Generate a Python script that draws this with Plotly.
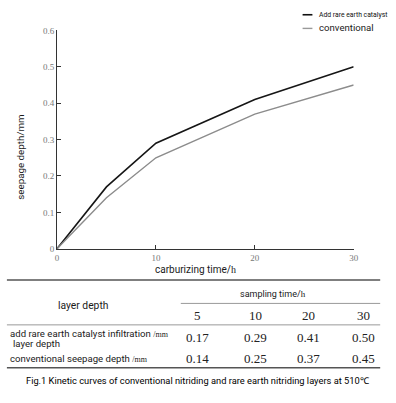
import plotly.graph_objects as go

# ---- data ----
times = [0, 5, 10, 20, 30]
rare_earth = [0, 0.17, 0.29, 0.41, 0.50]
conventional = [0, 0.14, 0.25, 0.37, 0.45]

table_times = [5, 10, 20, 30]
table_rare = [0.17, 0.29, 0.41, 0.50]
table_conv = [0.14, 0.25, 0.37, 0.45]

W, H = 396, 403
def px(x):
    return x / W
def py(y):
    return 1 - y / H

SANS = "Roboto, Liberation Sans, sans-serif"
SERIF = "Liberation Serif, DejaVu Serif, serif"

fig = go.Figure()
fig.add_trace(go.Scatter(x=times, y=rare_earth, mode="lines",
                         line=dict(color="#161616", width=1.6), showlegend=False))
fig.add_trace(go.Scatter(x=times, y=conventional, mode="lines",
                         line=dict(color="#8c8c8c", width=1.4), showlegend=False))

fig.update_layout(
    width=W, height=H, margin=dict(l=0, r=0, t=0, b=0),
    paper_bgcolor="white", plot_bgcolor="white",
    xaxis=dict(domain=[px(56), px(358)], range=[0, 30], tickvals=[0, 10, 20, 30],
               showline=True, linecolor="#333", linewidth=1, ticks="inside", ticklen=4,
               tickcolor="#333", showgrid=False, zeroline=False,
               tickfont=dict(family=SERIF, size=9, color="#777")),
    yaxis=dict(domain=[py(250), py(26)], range=[0, 0.6],
               tickvals=[0, 0.1, 0.2, 0.3, 0.4, 0.5, 0.6],
               ticktext=["0", "0.1", "0.2", "0.3", "0.4", "0.5", "0.6"],
               showline=True, linecolor="#333", linewidth=1, ticks="inside", ticklen=4,
               tickcolor="#333", showgrid=False, zeroline=False,
               tickfont=dict(family=SERIF, size=9, color="#777")),
)

ann = []
shapes = []
def text(x, y, s, size=11, family=SANS, color="#1a1a1a", xanchor="center", angle=0):
    ann.append(dict(x=px(x), y=py(y), xref="paper", yref="paper", text=s, showarrow=False,
                    xanchor=xanchor, yanchor="middle", textangle=angle,
                    font=dict(size=size, family=family, color=color)))
def hline(x0, x1, y, color="#444", width=1.2):
    shapes.append(dict(type="line", xref="paper", yref="paper",
                       x0=px(x0), x1=px(x1), y0=py(y), y1=py(y),
                       line=dict(color=color, width=width)))

# axis titles
text(18, 156, "seepage depth/mm", size=9.8, angle=-90)
text(197, 271, "carburizing time/<span style='font-family:Liberation Serif'>h</span>", size=10)

# legend
hline(306, 316, 10, color="#111", width=1.6)
text(321, 10, "Add rare earth catalyst", size=6.8, xanchor="left", color="#111")
hline(306, 316, 24, color="#999", width=1.4)
text(321, 23, "conventional", size=9.6, xanchor="left", color="#222")

# table
hline(5, 385, 282, color="#555", width=1.3)
hline(182, 385, 306, color="#999", width=1)
hline(5, 385, 328, color="#999", width=1)
hline(5, 385, 372, color="#555", width=1.3)

text(82, 308, "layer depth", size=10.3)
text(276, 296, "sampling time/<span style='font-family:Liberation Serif'>h</span>", size=9)

col_x = [199, 258, 312, 368]
for cx, t in zip(col_x, table_times):
    text(cx, 318, str(t), size=13, family=SERIF, color="#222")
for cx, v in zip(col_x, table_rare):
    text(cx, 341, f"{v:.2f}", size=13, family=SERIF, color="#222")
for cx, v in zip(col_x, table_conv):
    text(cx, 362, f"{v:.2f}", size=13, family=SERIF, color="#222")

text(6, 337, "add rare earth catalyst infiltration <span style='font-family:Liberation Serif;font-size:8px'>/mm</span>",
     size=9.6, xanchor="left")
text(9, 347, "layer depth", size=9.6, xanchor="left")
text(6, 362, "conventional seepage depth <span style='font-family:Liberation Serif;font-size:8px'>/mm</span>",
     size=9.6, xanchor="left")

# caption
text(200, 385, "Fig.1 Kinetic curves of conventional nitriding and rare earth nitriding layers at 510℃",
     size=9.3, color="#000")

fig.update_layout(annotations=ann, shapes=shapes)
fig.write_html("out.html", config={"displayModeBar": False},
               post_script="document.body.style.margin='0';document.body.style.overflow='hidden';")
